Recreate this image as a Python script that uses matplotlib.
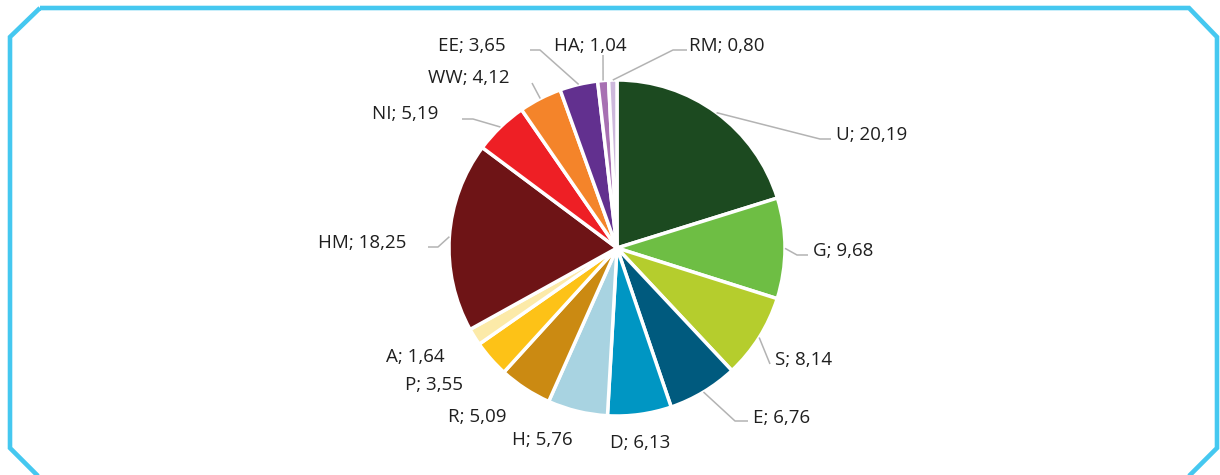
import numpy as np
import matplotlib.pyplot as plt
from matplotlib.patches import Polygon

# ---- data ----
categories = ['U', 'G', 'S', 'E', 'D', 'H', 'R', 'P', 'A', 'HM', 'NI', 'WW', 'EE', 'HA', 'RM']
values = [20.19, 9.68, 8.14, 6.76, 6.13, 5.76, 5.09, 3.55, 1.64, 18.25, 5.19, 4.12, 3.65, 1.04, 0.80]
colors = ['#1C4A20', '#6EBE44', '#B5CD2D', '#005A7E', '#0096C3', '#A8D3E1', '#CB8A12',
          '#FDC217', '#FCEAA8', '#6E1416', '#EE1F25', '#F4842A', '#62308F', '#A770B2', '#CDB8DC']

# ---- layout (pixel coordinates, y measured from top) ----
W, H = 1220, 475
label_pos = {
    'U': (836, 140, 'left'), 'G': (813, 256, 'left'), 'S': (775, 365, 'left'),
    'E': (753, 423, 'left'), 'D': (610, 448, 'left'), 'H': (512, 445, 'left'),
    'R': (448, 422, 'left'), 'P': (405, 390, 'left'), 'A': (386, 362, 'left'),
    'HM': (406, 248, 'right'), 'NI': (438, 119, 'right'), 'WW': (509, 83, 'right'),
    'EE': (506, 51, 'right'), 'HA': (590, 51, 'center'), 'RM': (689, 51, 'left'),
}
leader_pts = {
    'U': [(820, 139), (831, 139)], 'G': [(797, 255), (808, 255)], 'S': [(770, 364)],
    'E': [(735, 421), (748, 421)], 'HM': [(438, 247), (428, 247)],
    'NI': [(473, 119), (462, 119)], 'WW': [(532, 83)], 'EE': [(540, 50), (530, 50)],
    'HA': [(603, 55)], 'RM': [(673, 50), (687, 50)],
}


def P(x, y):
    return (x, H - y)


plt.rcParams['font.family'] = ['Open Sans', 'DejaVu Sans']
fig = plt.figure(figsize=(12.2, 4.75), dpi=100)
ax = fig.add_axes([0, 0, 1, 1])

cx, cy, R = 617, 248, 168
wedges, _ = ax.pie(values, colors=colors, startangle=90, counterclock=False,
                   center=P(cx, cy), radius=R,
                   wedgeprops=dict(edgecolor='white', linewidth=2.5))
ax.set_xlim(0, W)
ax.set_ylim(0, H)
ax.set_aspect('equal')
ax.axis('off')

text_color = '#1f1f1f'
for cat, val, w in zip(categories, values, wedges):
    lbl = f"{cat}; {val:.2f}".replace('.', ',')
    x, y, ha = label_pos[cat]
    ax.text(*P(x, y), lbl, ha=ha, va='baseline', fontsize=13.5, color=text_color)
    if cat in leader_pts:
        th = np.deg2rad((w.theta1 + w.theta2) / 2)
        c = w.center
        start = (c[0] + w.r * np.cos(th), c[1] + w.r * np.sin(th))
        pts = [start] + [P(px, py) for px, py in leader_pts[cat]]
        xs, ys = zip(*pts)
        ax.plot(xs, ys, color='#B3B3B3', lw=1.1, solid_capstyle='butt', zorder=1)

# frame with cut corners
frame = [(40, 8), (1189, 8), (1217, 37), (1217, 448), (1160, 505),
         (67, 505), (10, 448), (10, 37)]
ax.add_patch(Polygon([P(x, y) for x, y in frame], closed=True, fill=False,
                     edgecolor='#45C8F0', lw=3.3, joinstyle='miter'))

fig.savefig('out.png', dpi=100)
